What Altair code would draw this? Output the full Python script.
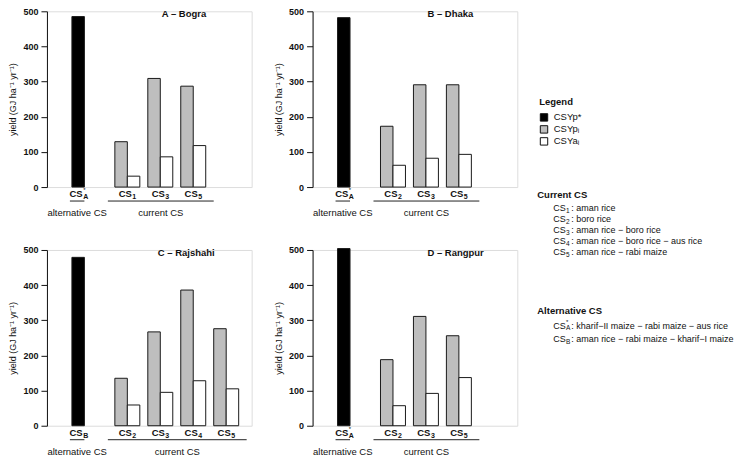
import altair as alt
import pandas as pd

# ---------------- data ----------------
panel_titles = ["A – Bogra", "B – Dhaka", "C – Rajshahi", "D – Rangpur"]
alt_cs = ["A", "A", "B", "A"]
alt_star = [True, True, False, True]
alt_yield = [485, 482, 479, 504]
current_cs = [["1", "3", "5"], ["2", "3", "5"], ["2", "3", "4", "5"], ["2", "3", "5"]]
csyp = [[129, 309, 287], [173, 291, 291], [135, 267, 386, 276], [188, 311, 256]]
csya = [[31, 86, 118], [62, 82, 93], [59, 95, 128, 105], [57, 92, 137]]
yticks = [0, 100, 200, 300, 400, 500]
legend_labels = ["CSYp*", "CSYpᵢ", "CSYaᵢ"]
legend_colors = ["#000000", "#BEBEBE", "#FFFFFF"]
current_names = ["1", "2", "3", "4", "5"]
current_desc = ["aman rice", "boro rice", "aman rice − boro rice",
                "aman rice − boro rice − aus rice", "aman rice − rabi maize"]
alternative_names = ["A", "B"]
alternative_star = [True, False]
alternative_desc = ["kharif−II maize − rabi maize − aus rice",
                    "aman rice − rabi maize − kharif−I maize"]

# ---------------- layout ----------------
FONT = "Liberation Sans"
W, H = 205, 176
BAR = 12.5
ALT_X0 = 25
GRP_X0 = 68
GRP_STEP = 33
TITLE_X = [115, 115, 111, 115]

color_scale = alt.Scale(domain=legend_labels, range=legend_colors)
legend = alt.Legend(title="Legend", orient="none", legendX=493, legendY=86,
                    symbolType="square", symbolSize=55, symbolStrokeColor="#111",
                    symbolStrokeWidth=1, labelOffset=5,
                    labelFontSize=9.5, titleFontSize=9.5, titleFontWeight="bold",
                    labelFont=FONT, titleFont=FONT, titlePadding=6, rowPadding=0,
                    labelColor="#111", titleColor="#111")

# notes block (pixel positions relative to panel B's plot area)
HX, IX = 225, 241
CUR_HY, CUR_Y0, STEP = 184, 197, 11.1
ALT_HY, ALT_Y = 300, [315, 328.5]


def notes_layers():
    heads = pd.DataFrame({"px": [HX, HX], "py": [CUR_HY, ALT_HY],
                          "t": ["Current CS", "Alternative CS"]})
    items = []
    for k, name in enumerate(current_names):
        items.append({"px": IX, "py": CUR_Y0 + k * STEP, "main": "CS", "sub": name,
                      "star": "", "rest": ": " + current_desc[k]})
    for k, name in enumerate(alternative_names):
        items.append({"px": IX, "py": ALT_Y[k], "main": "CS", "sub": name,
                      "star": "*" if alternative_star[k] else "",
                      "rest": ": " + alternative_desc[k]})
    items = pd.DataFrame(items)
    enc = dict(x=alt.X("px:Q", scale=None, axis=None), y=alt.Y("py:Q", scale=None, axis=None))
    common = dict(baseline="middle", font=FONT, color="#111")
    return [
        alt.Chart(heads).mark_text(align="left", fontSize=9.5, fontWeight="bold", **common)
        .encode(text="t:N", **enc),
        alt.Chart(items).mark_text(align="left", fontSize=9, **common)
        .encode(text="main:N", **enc),
        alt.Chart(items).mark_text(align="left", dx=12.8, dy=2.5, fontSize=6.5, **common)
        .encode(text="sub:N", **enc),
        alt.Chart(items).mark_text(align="left", dx=12.8, dy=-4, fontSize=6, **common)
        .encode(text="star:N", **enc),
        alt.Chart(items).mark_text(align="left", dx=18, fontSize=9, **common)
        .encode(text="rest:N", **enc),
    ]


def panel(i):
    xs = alt.Scale(domain=[0, W], nice=False, zero=False)
    ys = alt.Scale(domain=[0, 500], nice=False)
    bars, labs, lines, glabs = [], [], [], []
    bars.append({"x0": ALT_X0, "x1": ALT_X0 + BAR, "v": alt_yield[i], "kind": legend_labels[0]})
    labs.append({"xc": ALT_X0 + BAR / 2, "main": "CS", "sub": alt_cs[i],
                 "star": "*" if alt_star[i] else ""})
    n = len(current_cs[i])
    for j in range(n):
        s = GRP_X0 + j * GRP_STEP
        bars.append({"x0": s, "x1": s + BAR, "v": csyp[i][j], "kind": legend_labels[1]})
        bars.append({"x0": s + BAR, "x1": s + 2 * BAR, "v": csya[i][j], "kind": legend_labels[2]})
        labs.append({"xc": s + BAR, "main": "CS", "sub": current_cs[i][j], "star": ""})
    cur_end = GRP_X0 + (n - 1) * GRP_STEP + 2 * BAR + 8
    lines.append({"x0": ALT_X0 - 2, "x1": ALT_X0 + BAR})
    lines.append({"x0": GRP_X0 - 7, "x1": cur_end})
    glabs.append({"xc": ALT_X0 + BAR / 2 - 1, "t": "alternative CS"})
    glabs.append({"xc": (GRP_X0 - 7 + cur_end) / 2, "t": "current CS"})

    X = lambda f: alt.X(f, scale=xs, axis=None)
    b = alt.Chart(pd.DataFrame(bars)).mark_rect(stroke="#1a1a1a", strokeWidth=1).encode(
        x=X("x0:Q"), x2="x1:Q",
        y=alt.Y("v:Q", scale=ys, axis=alt.Axis(
            values=yticks, title="yield (GJ ha⁻¹ yr⁻¹)", grid=False,
            domainColor="#111", tickColor="#111", tickSize=6, labelFontSize=9,
            labelFontWeight="bold", labelPadding=3, titleFontSize=9,
            titleFontWeight="normal", titlePadding=5, labelFont=FONT,
            titleFont=FONT, labelColor="#111", titleColor="#111")),
        y2=alt.datum(0),
        color=alt.Color("kind:N", scale=color_scale, legend=legend),
    )
    ldf = pd.DataFrame(labs)
    main = alt.Chart(ldf).mark_text(align="right", baseline="middle", dx=4.5, fontSize=9.5,
                                    fontWeight="bold", font=FONT, color="#111").encode(
        x=X("xc:Q"), y=alt.value(H + 7), text="main:N")
    sub = alt.Chart(ldf).mark_text(align="left", baseline="middle", dx=5, dy=3, fontSize=7,
                                   fontWeight="bold", font=FONT, color="#111").encode(
        x=X("xc:Q"), y=alt.value(H + 7), text="sub:N")
    star = alt.Chart(ldf).mark_text(align="left", baseline="middle", dx=5, dy=-4, fontSize=6,
                                    font=FONT, color="#111").encode(
        x=X("xc:Q"), y=alt.value(H + 7), text="star:N")
    ln = alt.Chart(pd.DataFrame(lines)).mark_rule(stroke="#222", strokeWidth=1).encode(
        x=X("x0:Q"), x2="x1:Q", y=alt.value(H + 14))
    gl = alt.Chart(pd.DataFrame(glabs)).mark_text(baseline="middle", fontSize=9.5, font=FONT,
                                                  color="#111").encode(
        x=X("xc:Q"), y=alt.value(H + 26), text="t:N")
    tt = alt.Chart(pd.DataFrame({"t": [panel_titles[i]]})).mark_text(
        align="left", baseline="middle", fontSize=9.5, fontWeight="bold", font=FONT,
        color="#111").encode(x=alt.value(TITLE_X[i]), y=alt.value(3), text="t:N")
    layers = [b, main, sub, star, ln, gl, tt]
    if i == 1:
        layers += notes_layers()
    return alt.layer(*layers).resolve_scale(x="independent", y="independent").properties(
        width=W, height=H)


chart = alt.concat(
    panel(0), panel(1), panel(2), panel(3),
    columns=2, spacing={"row": 63, "column": 61}, bounds="flush",
).properties(padding={"left": 0, "top": -2, "right": 0, "bottom": 0}).configure_view(
    stroke="transparent", strokeWidth=0).configure(font=FONT)

chart.save("out.html", embed_options={"renderer": "svg", "actions": False})
